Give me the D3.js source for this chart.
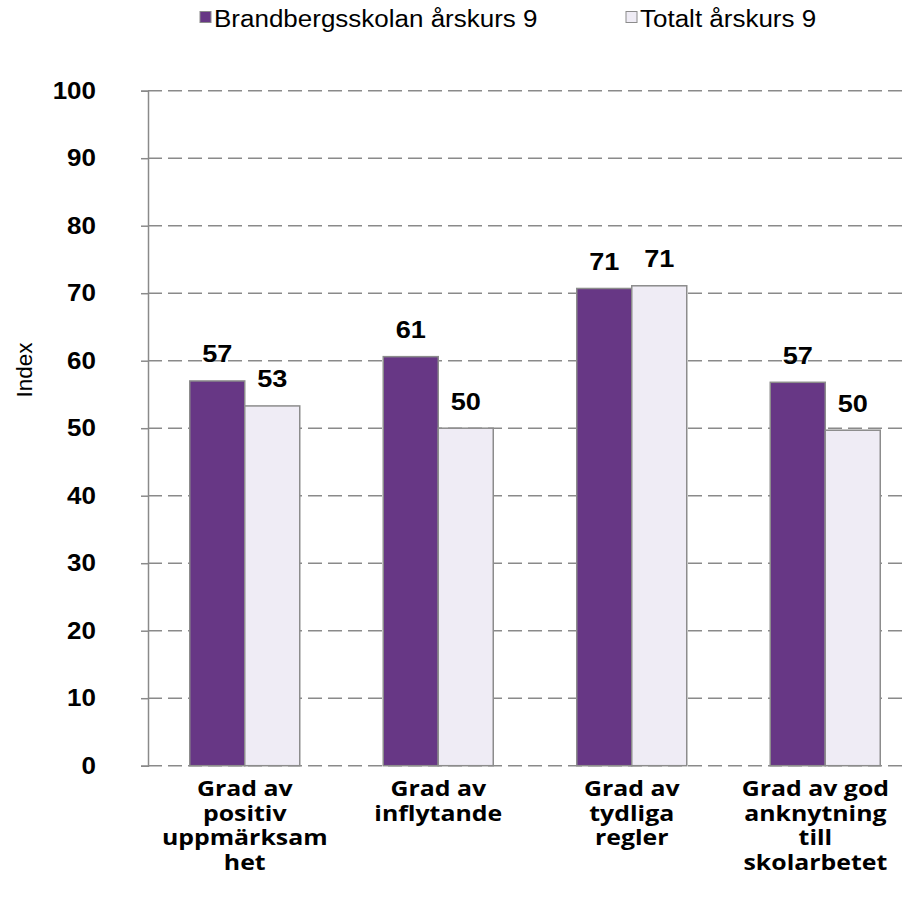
<!DOCTYPE html>
<html>
<head>
<meta charset="utf-8">
<script src="https://cdn.jsdelivr.net/npm/d3@7"></script>
<style>
  html, body { margin: 0; padding: 0; background: #fff; }
  svg { display: block; }
</style>
</head>
<body>
<svg id="chart" width="909" height="899"></svg>
<script>
const categories = ["Grad av positiv uppmärksamhet", "Grad av inflytande", "Grad av tydliga regler", "Grad av god anknytning till skolarbetet"];
const categoryLines = [["Grad av", "positiv", "uppmärksam", "het"], ["Grad av", "inflytande"], ["Grad av", "tydliga", "regler"], ["Grad av god", "anknytning", "till", "skolarbetet"]];
const seriesNames = ["Brandbergsskolan årskurs 9", "Totalt årskurs 9"];
const schoolValues = [57.0, 60.6, 70.7, 56.8];
const totalValues = [53.3, 50.0, 71.1, 49.7];
const yTicks = [0, 10, 20, 30, 40, 50, 60, 70, 80, 90, 100];
const yTitle = "Index";

const colors = ["#673785", "#EFECF5"];
const SX = 1.13; // horizontal stretch of text in reference

const svg = d3.select("#chart");
const plotLeft = 148, plotTop = 90.7, plotBottom = 765.7, bandRight = 922, gridRight = 905;

const y = d3.scaleLinear().domain([0, 100]).range([plotBottom, plotTop]);
const x = d3.scaleBand().domain(categories).range([plotLeft, bandRight]).paddingInner(0).paddingOuter(0);
const barW = 55;
const xs = d3.scaleBand().domain(seriesNames).range([0, barW * 2]);

function stretchText(sel, px, py) {
  sel.attr("transform", `translate(${px},${py}) scale(${SX},1)`);
}

// gridlines
svg.append("g").selectAll("line").data(yTicks).join("line")
  .attr("x1", plotLeft).attr("x2", gridRight)
  .attr("y1", d => y(d)).attr("y2", d => y(d))
  .attr("stroke", "#8a8a8a").attr("stroke-width", 1.5)
  .attr("stroke-dasharray", "14,6");

// y axis
const yAxis = d3.axisLeft(y).tickValues(yTicks).tickSize(7).tickFormat("");
const yg = svg.append("g").attr("transform", `translate(${plotLeft},0)`).call(yAxis);
yg.select(".domain").attr("stroke", "#8a8a8a").attr("stroke-width", 1.5);
yg.selectAll(".tick line").attr("stroke", "#8a8a8a").attr("stroke-width", 1.5);

// tick labels
svg.append("g").selectAll("text").data(yTicks).join("text")
  .text(d => d)
  .attr("text-anchor", "end")
  .attr("font-family", "Liberation Sans, Arial, sans-serif")
  .attr("font-weight", "bold").attr("font-size", 23)
  .attr("fill", "#000")
  .each(function(d) { stretchText(d3.select(this), 96, y(d) + 8); });

// y title
svg.append("text").text(yTitle)
  .attr("font-family", "Liberation Sans, Arial, sans-serif")
  .attr("font-size", 22.5).attr("text-anchor", "middle")
  .attr("transform", `translate(32,${370}) rotate(-90)`);

// bars
const seriesData = [schoolValues, totalValues];
const groups = svg.append("g").selectAll("g").data(categories).join("g")
  .attr("transform", d => `translate(${x(d) + x.bandwidth() / 2 - barW},0)`);

groups.selectAll("rect").data((c, i) => seriesNames.map((s, j) => ({ s, j, v: seriesData[j][i] })))
  .join("rect")
  .attr("x", d => xs(d.s))
  .attr("width", xs.bandwidth())
  .attr("y", d => y(d.v))
  .attr("height", d => plotBottom - y(d.v))
  .attr("fill", d => colors[d.j])
  .attr("stroke", "#8c8c8c").attr("stroke-width", 1.5);

// value labels
groups.selectAll("text.val").data((c, i) => seriesNames.map((s, j) => ({ s, j, v: seriesData[j][i] })))
  .join("text").attr("class", "val")
  .text(d => Math.round(d.v))
  .attr("text-anchor", "middle")
  .attr("font-family", "Liberation Sans, Arial, sans-serif")
  .attr("font-weight", "bold").attr("font-size", 24)
  .each(function(d) { stretchText(d3.select(this), xs(d.s) + xs.bandwidth() / 2, y(d.v) - 18.5); });

// category labels (kept inside the chart's right margin, as the reference does)
const labelRightLimit = 889;
const catG = svg.append("g").selectAll("g").data(categories).join("g");
catG.each(function(c, i) {
  const g = d3.select(this);
  g.selectAll("text").data(categoryLines[i]).join("text")
    .text(t => t)
    .attr("text-anchor", "middle")
    .attr("font-family", "Open Sans, sans-serif")
    .attr("font-weight", "bold").attr("font-size", 22)
    .attr("fill", "#000")
    .each(function(t, k) { stretchText(d3.select(this), 0, 796 + k * 24.7); });
  const bb = this.getBBox();
  let cx = x(c) + x.bandwidth() / 2;
  if (cx + bb.width / 2 > labelRightLimit) cx = labelRightLimit - bb.width / 2;
  g.attr("transform", `translate(${cx},0)`);
});

// legend
const legendX = [200, 626];
const lg = svg.append("g").selectAll("g").data(seriesNames).join("g")
  .attr("transform", (d, i) => `translate(${legendX[i]},0)`);
lg.append("rect").attr("x", 0).attr("y", 11.5).attr("width", 11).attr("height", 11)
  .attr("fill", (d, i) => colors[i]).attr("stroke", "#8c8c8c").attr("stroke-width", 1);
lg.append("text").text(d => d)
  .attr("font-family", "Liberation Sans, Arial, sans-serif")
  .attr("font-size", 23)
  .each(function() { stretchText(d3.select(this), 14, 26.5); });
</script>
</body>
</html>
